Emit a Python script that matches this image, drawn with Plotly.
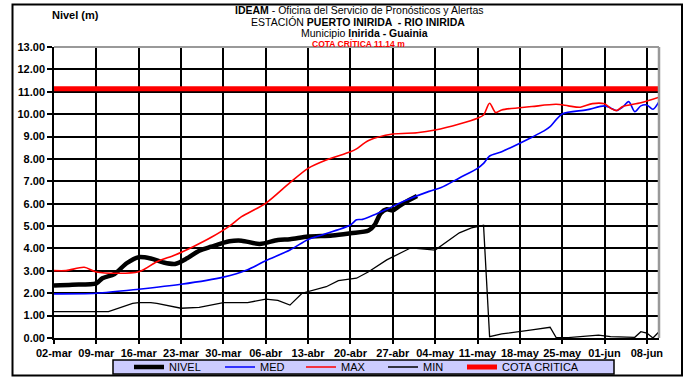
import plotly.graph_objects as go

YEAR = "2015"

# ---------------- data ----------------
nivel_dates = ["03-02", "03-05", "03-09", "03-10", "03-12", "03-14", "03-16", "03-18", "03-20",
               "03-22", "03-24", "03-26", "03-28", "03-31", "04-02", "04-05", "04-08", "04-10",
               "04-13", "04-17", "04-20", "04-23", "04-24", "04-25", "04-26", "04-27", "04-28",
               "04-29", "05-01"]
nivel_vals = [2.35, 2.38, 2.44, 2.67, 2.86, 3.34, 3.61, 3.55, 3.38,
              3.31, 3.56, 3.90, 4.08, 4.32, 4.35, 4.20, 4.38, 4.41,
              4.53, 4.58, 4.68, 4.80, 5.05, 5.57, 5.75, 5.70, 5.88,
              6.05, 6.34]

med_dates = ["03-02", "03-09", "03-16", "03-23", "03-30", "04-03", "04-06", "04-10", "04-13",
             "04-15", "04-20", "04-21", "04-22", "04-26", "04-29", "05-03", "05-05", "05-08",
             "05-11", "05-12", "05-13", "05-15", "05-20", "05-22", "05-23", "05-25", "05-29",
             "06-01", "06-02", "06-03", "06-04", "06-05", "06-06", "06-07", "06-08", "06-09",
             "06-10"]
med_vals = [1.97, 2.00, 2.18, 2.40, 2.72, 3.05, 3.45, 3.93, 4.40,
            4.58, 5.05, 5.28, 5.30, 5.75, 6.13, 6.55, 6.72, 7.15,
            7.58, 7.80, 8.13, 8.32, 8.97, 9.25, 9.44, 10.01, 10.19,
            10.37, 10.28, 10.16, 10.32, 10.56, 10.11, 10.37, 10.41, 10.22,
            10.56]

max_dates = ["03-02", "03-04", "03-07", "03-09", "03-16", "03-19", "03-22", "03-25", "03-28",
             "03-31", "04-02", "04-06", "04-10", "04-13", "04-16", "04-20", "04-21", "04-23",
             "04-27", "05-01", "05-04", "05-08", "05-11", "05-12", "05-13", "05-14", "05-15",
             "05-20", "05-24", "05-26", "05-28", "05-30", "06-01", "06-02", "06-03", "06-04",
             "06-07", "06-10"]
max_vals = [3.01, 3.01, 3.16, 2.95, 2.96, 3.41, 3.71, 4.08, 4.50,
            5.00, 5.42, 6.02, 6.94, 7.58, 7.95, 8.32, 8.45, 8.82,
            9.11, 9.17, 9.29, 9.56, 9.82, 9.96, 10.49, 10.07, 10.19,
            10.34, 10.44, 10.37, 10.31, 10.47, 10.46, 10.26, 10.16, 10.34,
            10.51, 10.76]

min_dates = ["03-02", "03-11", "03-15", "03-16", "03-18", "03-19", "03-23", "03-26", "03-30",
             "04-03", "04-06", "04-08", "04-10", "04-12", "04-16", "04-18", "04-21", "04-23",
             "04-26", "04-30", "05-04", "05-08", "05-10", "05-12", "05-13", "05-15", "05-20",
             "05-23", "05-24", "05-26", "05-31", "06-02", "06-06", "06-07", "06-08", "06-09",
             "06-10"]
min_vals = [1.18, 1.18, 1.55, 1.58, 1.58, 1.55, 1.33, 1.37, 1.58,
            1.58, 1.74, 1.68, 1.47, 2.00, 2.29, 2.56, 2.67, 2.96,
            3.49, 4.03, 3.93, 4.70, 4.92, 5.03, 0.06, 0.18, 0.36,
            0.48, 0.02, 0.02, 0.13, 0.06, 0.03, 0.28, 0.22, 0.00,
            0.28]

cota_dates = ["03-02", "06-10"]
cota_vals = [11.14, 11.14]

tick_dates = ["03-02", "03-09", "03-16", "03-23", "03-30", "04-06", "04-13", "04-20", "04-27",
              "05-04", "05-11", "05-18", "05-25", "06-01", "06-08"]
tick_labels = ["02-mar", "09-mar", "16-mar", "23-mar", "30-mar", "06-abr", "13-abr", "20-abr",
               "27-abr", "04-may", "11-may", "18-may", "25-may", "01-jun", "08-jun"]
x_range = ["03-02", "06-10"]


def d(lst):
    return [f"{YEAR}-{s}" for s in lst]


FONT = "Arial, 'Liberation Sans', sans-serif"

fig = go.Figure()
fig.add_trace(go.Scatter(x=d(nivel_dates), y=nivel_vals, name="NIVEL", mode="lines",
                         legendwidth=46,
                         line=dict(color="black", width=4.5, shape="spline", smoothing=0.8)))
fig.add_trace(go.Scatter(x=d(med_dates), y=med_vals, name="MED", mode="lines",
                         legendwidth=36,
                         line=dict(color="#0000ff", width=1.6, shape="spline", smoothing=0.8)))
fig.add_trace(go.Scatter(x=d(max_dates), y=max_vals, name="MAX", mode="lines",
                         legendwidth=37,
                         line=dict(color="#ff0000", width=1.6, shape="spline", smoothing=0.8)))
fig.add_trace(go.Scatter(x=d(min_dates), y=min_vals, name="MIN", mode="lines",
                         legendwidth=34,
                         line=dict(color="black", width=1.3)))
fig.add_trace(go.Scatter(x=d(cota_dates), y=cota_vals, name="COTA CRITICA", mode="lines",
                         legendwidth=95,
                         line=dict(color="#ff0000", width=5)))

W, H = 689, 378
L, R, T, B = 54, 30, 47, 40
pw, ph = W - L - R, H - T - B


def px2paper_x(px):
    return (px - L) / pw


def py2paper_y(py):
    return (H - B - py) / ph


shapes = [
    # legend box
    dict(type="rect", xref="paper", yref="paper",
         x0=px2paper_x(113), x1=px2paper_x(614), y0=py2paper_y(374), y1=py2paper_y(360),
         fillcolor="#ccccff", line=dict(color="black", width=1.5), layer="below"),
    # outer frame
    dict(type="rect", xref="paper", yref="paper",
         x0=px2paper_x(12.5), x1=px2paper_x(682), y0=py2paper_y(375.5), y1=py2paper_y(4.5),
         line=dict(color="black", width=2), layer="below"),
    # grey top / right border of plot area
    dict(type="line", xref="paper", yref="paper", x0=0, x1=1, y0=1, y1=1,
         line=dict(color="#999999", width=2), layer="above"),
    dict(type="line", xref="paper", yref="paper", x0=1, x1=1, y0=0, y1=1,
         line=dict(color="#999999", width=2.5), layer="above"),
]

TS = 10.5
annotations = [
    dict(text="<b>IDEAM</b> - Oficina del Servicio de Pronósticos y Alertas",
         x=px2paper_x(359), y=py2paper_y(9.8)),
    dict(text="ESTACIÓN <b>PUERTO INIRIDA  - RIO INIRIDA</b>",
         x=px2paper_x(358), y=py2paper_y(21.6)),
    dict(text="Municipio <b>Inirida - Guainia</b>",
         x=px2paper_x(364), y=py2paper_y(33.4)),
]
annotations = [dict(a, xref="paper", yref="paper", xanchor="center", yanchor="middle",
                    showarrow=False, font=dict(family=FONT, size=TS, color="black"))
               for a in annotations]
annotations.append(dict(text="<b>COTA CRÍTICA 11.14 m</b>", x=px2paper_x(358), y=py2paper_y(43.6),
                        xref="paper", yref="paper", xanchor="center", yanchor="middle",
                        showarrow=False, font=dict(family=FONT, size=8.5, color="#ff0000")))
annotations.append(dict(text="<b>Nivel (m)</b>", x=px2paper_x(75), y=py2paper_y(15.5),
                        xref="paper", yref="paper", xanchor="center", yanchor="middle",
                        showarrow=False, font=dict(family=FONT, size=11, color="black")))

fig.update_layout(
    width=W, height=H,
    margin=dict(l=L, r=R, t=T, b=B, autoexpand=False),
    paper_bgcolor="white", plot_bgcolor="white",
    font=dict(family=FONT, color="black"),
    showlegend=True,
    legend=dict(orientation="h", x=px2paper_x(129), y=py2paper_y(367),
                xanchor="left", yanchor="middle",
                bgcolor="rgba(0,0,0,0)", borderwidth=0,
                font=dict(family=FONT, size=11, color="black"),
                itemwidth=30, tracegroupgap=0),
    shapes=shapes,
    annotations=annotations,
    xaxis=dict(type="date", range=d(x_range), tickvals=d(tick_dates), ticktext=tick_labels,
               showgrid=True, gridcolor="black", gridwidth=1.6,
               showline=True, linecolor="black", linewidth=1.6,
               ticks="outside", ticklen=4, tickwidth=1.6, tickcolor="black",
               tickfont=dict(family=FONT, size=11, color="black", weight="bold"),
               zeroline=False, fixedrange=True),
    yaxis=dict(range=[0, 13], dtick=1, tick0=0, tickformat=".2f",
               showgrid=True, gridcolor="black", gridwidth=1.6,
               showline=True, linecolor="black", linewidth=1.6,
               ticks="outside", ticklen=5, tickwidth=1.6, tickcolor="black",
               tickfont=dict(family=FONT, size=11, color="black", weight="bold"),
               zeroline=False, fixedrange=True),
)

fig.write_html("out.html", config={"displayModeBar": False},
               post_script="document.body.style.margin='0px';document.body.style.overflow='hidden';")
